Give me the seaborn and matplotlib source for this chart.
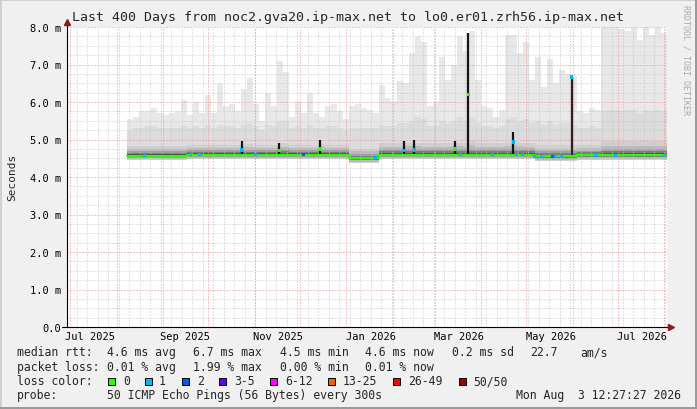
import numpy as np
import pandas as pd
import seaborn as sns
import matplotlib.pyplot as plt
from matplotlib.lines import Line2D
from matplotlib.patches import Rectangle

W, H = 697, 410

t_start = pd.Timestamp("2025-06-29 12:27")
t_end = pd.Timestamp("2026-08-03 12:27")
# 4-day bins from first sample to end of graph
bin_start = pd.date_range("2025-08-08 12:27", periods=90, freq="4D")

# median rtt per bin (ms)
rtt_median = [
    4.57, 4.57, 4.57, 4.57, 4.57, 4.57, 4.57, 4.57, 4.57, 4.57,
    4.60, 4.60, 4.60, 4.60, 4.60, 4.60, 4.60, 4.60, 4.60, 4.60,
    4.60, 4.60, 4.60, 4.60, 4.60, 4.60, 4.60, 4.60, 4.60, 4.60,
    4.60, 4.60, 4.60, 4.60, 4.60, 4.60, 4.60, 4.50, 4.50, 4.50,
    4.50, 4.50, 4.60, 4.60, 4.60, 4.60, 4.60, 4.60, 4.60, 4.60,
    4.60, 4.60, 4.60, 4.60, 4.60, 4.60, 4.60, 4.60, 4.60, 4.60,
    4.60, 4.60, 4.60, 4.60, 4.60, 4.60, 4.60, 4.60, 4.55, 4.55,
    4.55, 4.55, 4.55, 4.55, 4.55, 4.58, 4.58, 4.58, 4.58, 4.58,
    4.58, 4.58, 4.58, 4.58, 4.58, 4.58, 4.58, 4.58, 4.58, 4.58,
]
# smoke: lowest ping, top of the dense part, top of medium grey, highest ping
smoke_low = [
    4.45, 4.45, 4.45, 4.45, 4.45, 4.45, 4.45, 4.45, 4.45, 4.45,
    4.47, 4.47, 4.47, 4.47, 4.47, 4.47, 4.47, 4.47, 4.47, 4.47,
    4.47, 4.47, 4.47, 4.47, 4.47, 4.47, 4.47, 4.47, 4.47, 4.47,
    4.47, 4.47, 4.47, 4.47, 4.47, 4.47, 4.47, 4.37, 4.37, 4.37,
    4.37, 4.37, 4.47, 4.47, 4.47, 4.47, 4.47, 4.47, 4.47, 4.47,
    4.47, 4.47, 4.47, 4.47, 4.47, 4.47, 4.47, 4.47, 4.47, 4.47,
    4.47, 4.47, 4.47, 4.47, 4.47, 4.47, 4.47, 4.47, 4.42, 4.42,
    4.42, 4.42, 4.42, 4.42, 4.42, 4.45, 4.45, 4.45, 4.45, 4.45,
    4.45, 4.45, 4.45, 4.45, 4.45, 4.45, 4.45, 4.45, 4.45, 4.45,
]
smoke_dense = [
    4.82, 4.82, 4.82, 4.82, 4.82, 4.82, 4.82, 4.82, 4.82, 4.82,
    4.86, 4.86, 4.86, 4.86, 4.86, 4.86, 4.86, 4.86, 4.86, 4.88,
    4.88, 4.86, 4.86, 4.86, 4.86, 4.90, 4.90, 4.86, 4.86, 4.86,
    4.86, 4.86, 4.88, 4.86, 4.86, 4.86, 4.86, 4.76, 4.76, 4.76,
    4.76, 4.76, 4.90, 4.90, 4.90, 4.90, 4.92, 4.92, 4.92, 4.90,
    4.90, 4.90, 4.90, 4.90, 4.92, 4.92, 4.90, 4.95, 4.90, 4.90,
    4.90, 4.90, 4.90, 4.92, 4.95, 4.92, 4.90, 4.90, 4.85, 4.85,
    4.85, 4.85, 4.85, 4.85, 4.85, 4.85, 4.85, 4.85, 4.85, 4.95,
    4.95, 4.95, 4.95, 4.95, 4.95, 4.95, 4.95, 4.95, 4.95, 4.95,
]
smoke_mid = [
    5.25, 5.30, 5.30, 5.35, 5.35, 5.30, 5.30, 5.30, 5.30, 5.35,
    5.30, 5.35, 5.30, 5.40, 5.30, 5.40, 5.35, 5.35, 5.30, 5.40,
    5.45, 5.35, 5.25, 5.40, 5.35, 5.50, 5.50, 5.30, 5.35, 5.30,
    5.40, 5.30, 5.30, 5.35, 5.35, 5.30, 5.25, 5.30, 5.30, 5.30,
    5.30, 5.30, 5.40, 5.35, 5.35, 5.45, 5.45, 5.50, 5.60, 5.55,
    5.35, 5.35, 5.50, 5.45, 5.50, 5.60, 5.50, 5.60, 5.45, 5.35,
    5.35, 5.30, 5.35, 5.55, 5.60, 5.50, 5.55, 5.45, 5.50, 5.40,
    5.50, 5.40, 5.45, 5.45, 5.40, 5.30, 5.30, 5.35, 5.30, 5.75,
    5.80, 5.80, 5.75, 5.80, 5.80, 5.70, 5.80, 5.75, 5.80, 5.75,
]
smoke_max = [
    5.55, 5.60, 5.75, 5.75, 5.85, 5.70, 5.65, 5.70, 5.75, 6.05,
    5.65, 6.00, 5.70, 6.20, 5.70, 6.50, 5.90, 5.95, 5.75, 6.35,
    6.65, 5.95, 5.50, 6.25, 5.90, 7.10, 6.80, 5.60, 6.00, 5.70,
    6.25, 5.70, 5.60, 5.90, 5.95, 5.75, 5.55, 5.90, 5.95, 5.85,
    5.80, 5.70, 6.45, 6.10, 6.00, 6.55, 6.50, 7.30, 7.75, 7.60,
    5.90, 6.00, 7.20, 6.60, 7.00, 7.75, 7.35, 7.90, 6.60, 5.90,
    5.85, 5.60, 5.80, 7.80, 7.80, 7.30, 7.60, 6.60, 7.20, 6.40,
    7.15, 6.50, 6.85, 6.75, 6.70, 5.75, 5.70, 5.85, 5.80, 8.00,
    8.00, 8.00, 7.95, 7.90, 8.00, 7.65, 8.00, 7.80, 8.00, 7.85,
]

# short median excursions
spike_date = ["2025-10-24", "2025-11-18", "2025-12-15", "2026-02-09", "2026-02-16",
              "2026-03-15", "2026-03-24", "2026-04-23", "2026-06-01"]
spike_rtt = [4.72, 4.70, 4.75, 4.70, 4.72, 4.75, 6.20, 4.93, 6.67]
spike_top = [4.95, 4.92, 5.00, 4.95, 5.00, 4.95, 7.85, 5.20, 6.67]
spike_loss = [1, 0, 0, 1, 1, 0, 0, 1, 1]

# samples with packet loss on the median line
loss_date = ["2025-08-20", "2025-09-20", "2025-09-26", "2025-11-02", "2025-12-04",
             "2026-01-21", "2026-03-19", "2026-04-09", "2026-04-25", "2026-04-29",
             "2026-05-07", "2026-05-12", "2026-05-19", "2026-05-21", "2026-05-25",
             "2026-06-17", "2026-06-30", "2026-08-02"]
loss_rtt = [4.57, 4.60, 4.60, 4.60, 4.60, 4.52, 4.60, 4.60, 4.60, 4.60,
            4.55, 4.55, 4.55, 4.55, 4.55, 4.58, 4.58, 4.58]
loss_level = [1, 1, 1, 1, 2, 1, 1, 1, 1, 1, 1, 1, 2, 1, 1, 1, 1, 1]

loss_labels = ["0", "1", "2", "3-5", "6-12", "13-25", "26-49", "50/50"]
loss_colors = ["#26ff00", "#00b8ff", "#0059ff", "#5e00ff",
               "#ff00ff", "#ff5e00", "#ff0000", "#a10000"]

y_ticks = [0, 1, 2, 3, 4, 5, 6, 7, 8]
y_tick_labels = ["0.0", "1.0 m", "2.0 m", "3.0 m", "4.0 m", "5.0 m", "6.0 m", "7.0 m", "8.0 m"]
x_label_dates = ["2025-07-15", "2025-09-16", "2025-11-17", "2026-01-18",
                 "2026-03-18", "2026-05-18", "2026-07-18"]
x_labels = ["Jul 2025", "Sep 2025", "Nov 2025", "Jan 2026",
            "Mar 2026", "May 2026", "Jul 2026"]


def fx(px):
    return px / W


def fy(py):
    return 1 - py / H


def step(vals):
    vals = np.asarray(vals, dtype=float)
    return np.append(vals, vals[-1])


sns.set_theme(style="white")
plt.rcParams["font.family"] = ["DejaVu Sans Mono", "DejaVu Sans"]

fig = plt.figure(figsize=(W / 100, H / 100), dpi=100, facecolor="#f0f0f0")
ax = fig.add_axes([fx(67), fy(328), 600 / W, 300 / H])
ax.set_facecolor("white")

edges = bin_start.append(pd.DatetimeIndex([t_end]))
med = np.asarray(rtt_median)
low = np.asarray(smoke_low)
dense = np.asarray(smoke_dense)

# smoke, from light outer pings to the dark core around the median
ax.fill_between(edges, step(low), step(smoke_max), step="post", color="#e8e8e8", lw=0, zorder=1)
ax.fill_between(edges, step(low), step(smoke_mid), step="post", color="#dcdcdc", lw=0, zorder=1)
fracs = [1.0, 0.7, 0.45, 0.28, 0.15, 0.06]
greys = ["#cfcfcf", "#bababa", "#a0a0a0", "#7c7c7c", "#525252", "#242424"]
for f, c in zip(fracs, greys):
    ax.fill_between(edges, step(med - (med - low) * f), step(med + (dense - med) * f),
                    step="post", color=c, lw=0, zorder=1)

# grid, dotted like rrdtool
dots = (0, (1, 2))
grid_kw = dict(lw=0.72, ls=dots, zorder=2)
for d in pd.date_range(t_start.normalize(), t_end, freq="W-SUN"):
    ax.axvline(d, color="#c4c4c4", **grid_kw)
for v in np.arange(0.25, 8.01, 0.25):
    if abs(v - round(v)) > 1e-6:
        ax.axhline(v, color="#c4c4c4", **grid_kw)
for d in pd.date_range(t_start, t_end, freq="MS"):
    ax.axvline(d, color="#ee8f8f", **grid_kw)
for v in range(1, 9):
    ax.axhline(v, color="#ee8f8f", **grid_kw)

# spikes
sp_dates = pd.to_datetime(spike_date)
sp_idx = np.searchsorted(bin_start.values, sp_dates.values, side="right") - 1
sp_base = med[sp_idx]
sp_colors = ["#141414"] * 8 + ["#3a1c1c"]
ax.vlines(sp_dates, sp_base, spike_top, colors=sp_colors, lw=1.6, zorder=4)

# median line
df_med = pd.DataFrame({"time": edges, "rtt": step(med)})
sns.lineplot(data=df_med, x="time", y="rtt", drawstyle="steps-post", color=loss_colors[0],
             lw=1.5, ax=ax, zorder=5)

pal = {i: c for i, c in enumerate(loss_colors)}
df_sp = pd.DataFrame({"time": sp_dates, "rtt": spike_rtt, "loss": spike_loss})
sns.scatterplot(data=df_sp, x="time", y="rtt", hue="loss", palette=pal, marker="s", s=6,
                linewidth=0, legend=False, ax=ax, zorder=6)
df_loss = pd.DataFrame({"time": pd.to_datetime(loss_date), "rtt": loss_rtt, "loss": loss_level})
sns.scatterplot(data=df_loss, x="time", y="rtt", hue="loss", palette=pal, marker="s", s=6,
                linewidth=0, legend=False, ax=ax, zorder=6)

ax.set_xlim(t_start, t_end)
ax.set_ylim(0, 8)
ax.set_xlabel("")
ax.set_ylabel("")
ax.set_yticks(y_ticks)
ax.set_yticklabels(y_tick_labels)
ax.set_xticks(pd.to_datetime(x_label_dates))
ax.set_xticklabels(x_labels)
ax.tick_params(axis="y", length=0, pad=4.3, labelsize=7.5, labelcolor="black")
ax.tick_params(axis="x", length=0, pad=3.0, labelsize=7.5, labelcolor="black")
for s in ax.spines.values():
    s.set_visible(False)
ax.grid(False)

# axes with arrows
fig.add_artist(Line2D([fx(67), fx(67)], [fy(328), fy(24)], color="black", lw=0.8))
fig.add_artist(Line2D([fx(62), fx(669)], [fy(328), fy(328)], color="black", lw=0.8))
fig.add_artist(Line2D([fx(67)], [fy(23)], marker="^", ms=5, color="#8b1a1a", lw=0))
fig.add_artist(Line2D([fx(671)], [fy(328)], marker=">", ms=5, color="#8b1a1a", lw=0))

# frame shading
fig.add_artist(Rectangle((0, fy(2)), 1, 2 / H, transform=fig.transFigure, color="#d0d0d0", lw=0))
fig.add_artist(Rectangle((0, 0), 2 / W, 1, transform=fig.transFigure, color="#d0d0d0", lw=0))
fig.add_artist(Rectangle((0, 0), 1, 2 / H, transform=fig.transFigure, color="#9a9a9a", lw=0))
fig.add_artist(Rectangle((fx(W - 2), 0), 2 / W, 1, transform=fig.transFigure, color="#9a9a9a", lw=0))

fig.text(fx(348), fy(18), "Last 400 Days from noc2.gva20.ip-max.net to lo0.er01.zrh56.ip-max.net",
         ha="center", va="center", fontsize=9.5)
fig.text(fx(12), fy(177), "Seconds", rotation=90, ha="center", va="center", fontsize=8)
fig.text(fx(686), fy(5), "RRDTOOL / TOBI OETIKER", rotation=270, ha="center", va="top",
         fontsize=6, color="#aaaaaa")

# legend block
fs = 8.3
rows = {
    353: [(17, "median rtt:"), (107, "4.6 ms avg"), (193, "6.7 ms max"), (280, "4.5 ms min"),
          (365, "4.6 ms now"), (452, "0.2 ms sd"), (530, "22.7"), (580, "am/s")],
    368: [(17, "packet loss:"), (107, "0.01 % avg"), (193, "1.99 % max"), (280, "0.00 % min"),
          (365, "0.01 % now")],
    382: [(17, "loss color:")],
    396: [(17, "probe:"), (107, "50 ICMP Echo Pings (56 Bytes) every 300s")],
}
for y, items in rows.items():
    for x, s in items:
        fig.text(fx(x), fy(y), s, ha="left", va="center", fontsize=fs)
fig.text(fx(681), fy(396), "Mon Aug  3 12:27:27 2026", ha="right", va="center", fontsize=fs)

box_x = [108, 145, 182, 219, 270, 328, 393, 459]
text_x = [123, 159, 197, 234, 285, 343, 408, 473]
for bx, tx, lab, col in zip(box_x, text_x, loss_labels, loss_colors):
    fig.add_artist(Rectangle((fx(bx), fy(385.5)), 7 / W, 7 / H, transform=fig.transFigure,
                             facecolor=col, edgecolor="black", lw=0.7))
    fig.text(fx(tx), fy(382), lab, ha="left", va="center", fontsize=fs)

fig.savefig("out.png", dpi=100, facecolor=fig.get_facecolor())
